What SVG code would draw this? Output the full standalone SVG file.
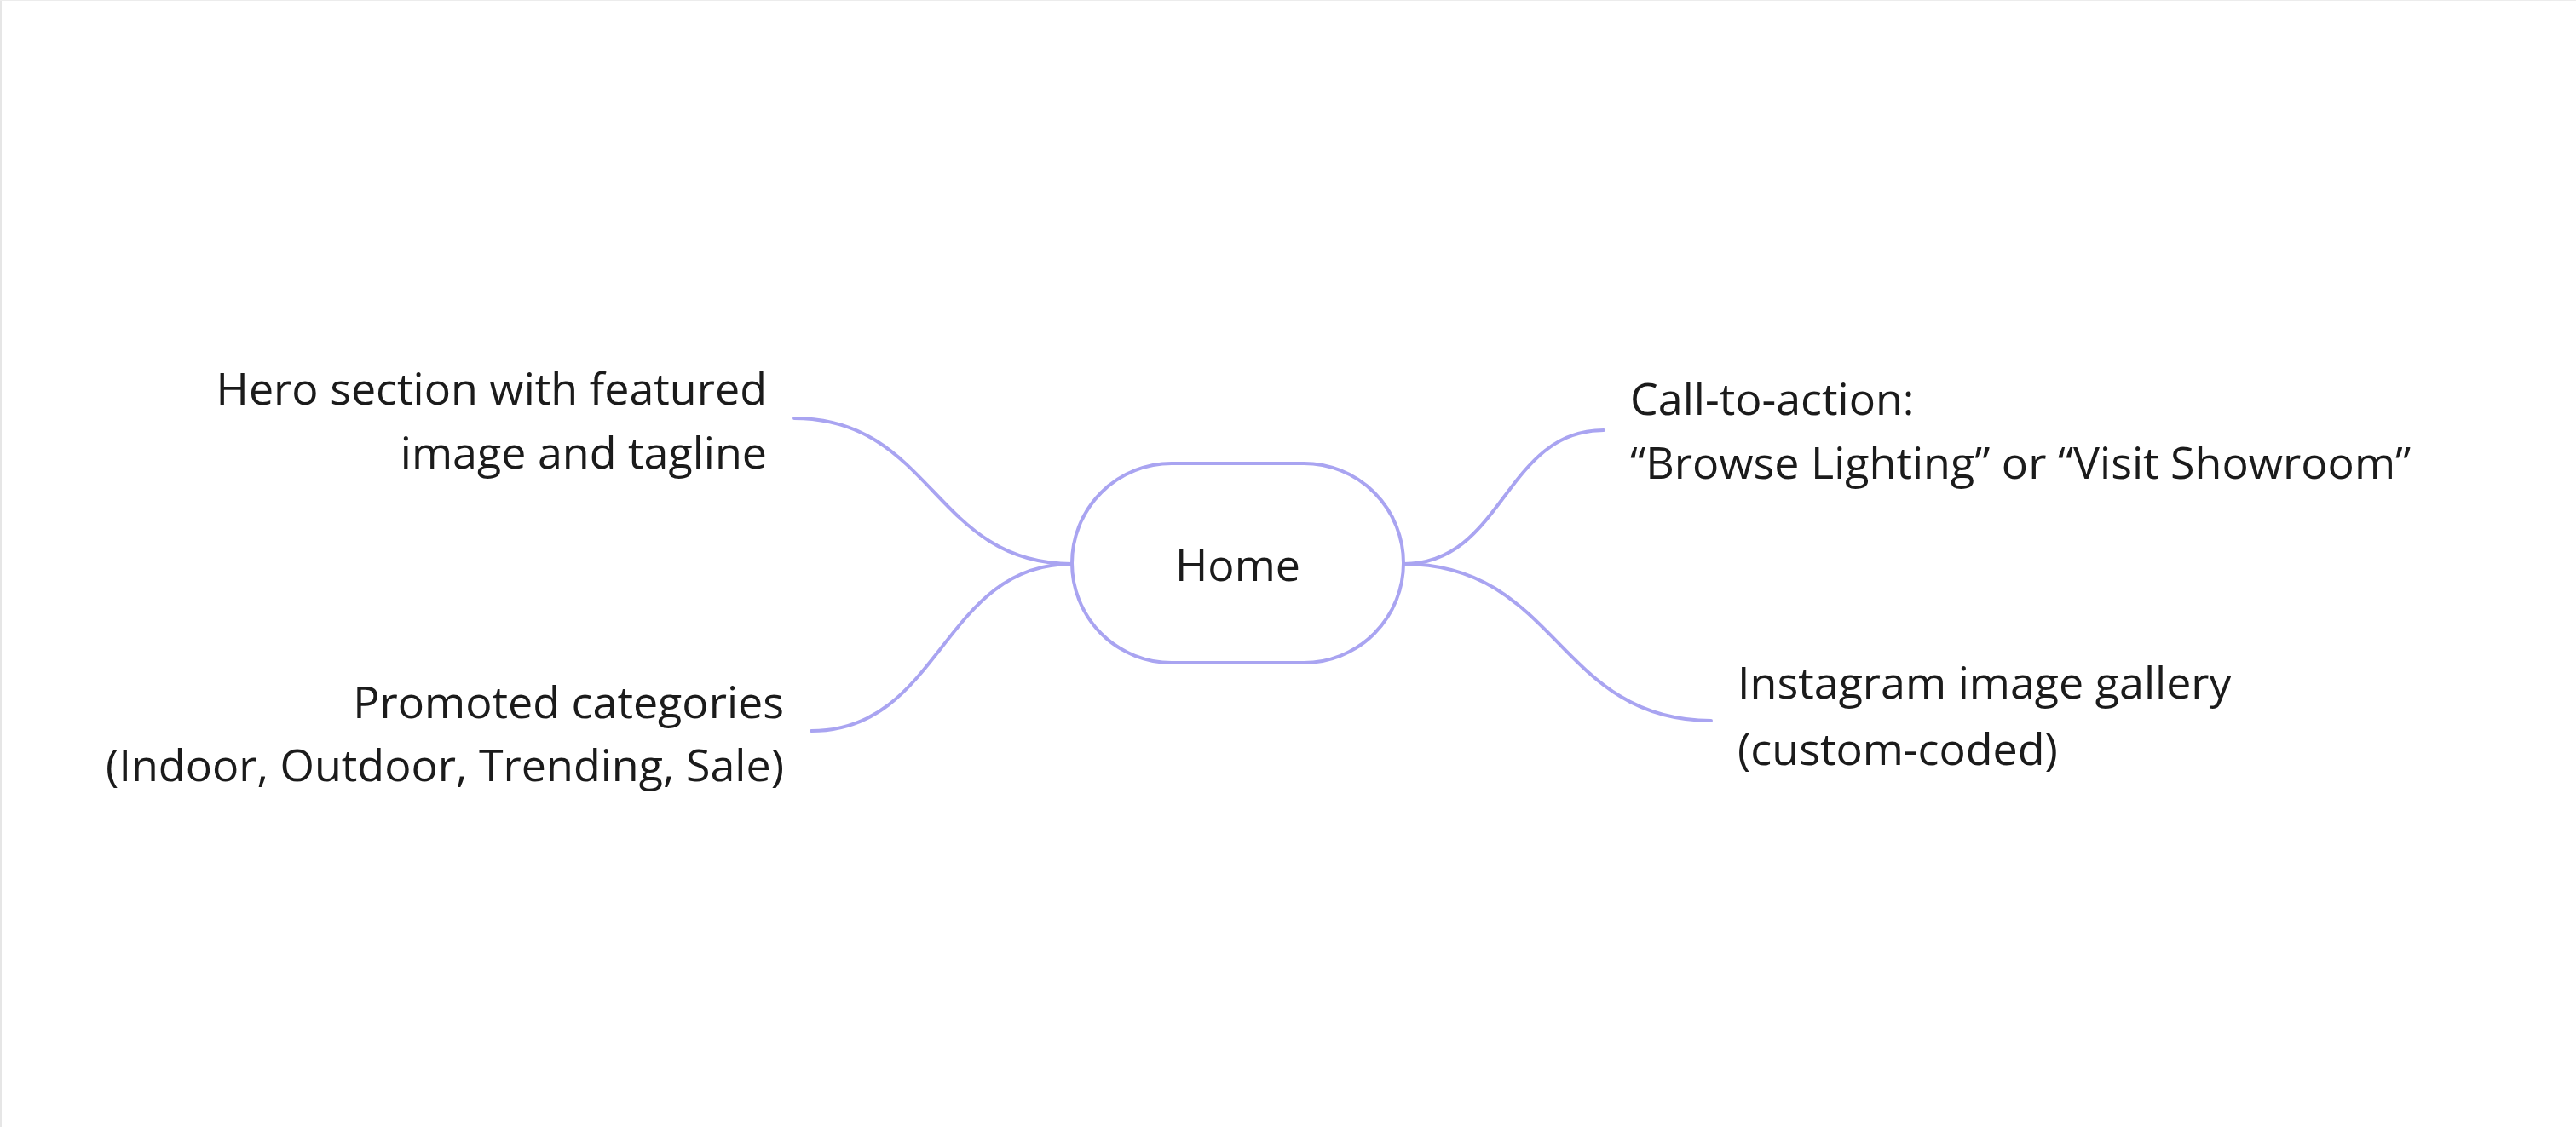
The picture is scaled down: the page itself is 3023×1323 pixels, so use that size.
<svg xmlns="http://www.w3.org/2000/svg" width="3023" height="1323" viewBox="0 0 3023 1323">
<style>
.lbl{font-family:"Open Sans","Noto Sans","Liberation Sans",sans-serif;font-size:52px;fill:#1b1b1b}
.edge{fill:none;stroke:#a9a4f1;stroke-width:4;stroke-linecap:round}
.node{fill:#ffffff;stroke:#a9a4f1;stroke-width:4}
</style>
<rect x="0" y="0" width="3023" height="1323" fill="#ffffff"/>
<line x1="1" y1="0" x2="1" y2="1323" stroke="#e6e6e6" stroke-width="2"/>
<line x1="0" y1="0.5" x2="3023" y2="0.5" stroke="#ececec" stroke-width="1"/>
<g id="connectors">
<path class="edge" d="M932,491 C1095,491 1095,662 1258,662"/>
<path class="edge" d="M952,858 C1105,858 1105,662 1258,662"/>
<path class="edge" d="M1647,662 C1765,662 1765,505 1882,505"/>
<path class="edge" d="M1647,662 C1828,662 1828,846 2008,846"/>
</g>
<g id="home">
<rect class="node" x="1258" y="544" width="389" height="234" rx="117" ry="117"/>
<text class="lbl" x="1452.5" y="682" text-anchor="middle">Home</text>
</g>
<g id="hero">
<text class="lbl" text-anchor="end"><tspan x="900" y="475">Hero section with featured</tspan><tspan x="900" y="550">image and tagline</tspan></text>
</g>
<g id="promoted">
<text class="lbl" text-anchor="end"><tspan x="920" y="843">Promoted categories</tspan><tspan x="920" y="917">(Indoor, Outdoor, Trending, Sale)</tspan></text>
</g>
<g id="cta">
<text class="lbl"><tspan x="1913" y="487">Call-to-action:</tspan><tspan x="1913" y="562">“Browse Lighting” or “Visit Showroom”</tspan></text>
</g>
<g id="instagram">
<text class="lbl"><tspan x="2039" y="820">Instagram image gallery</tspan><tspan x="2039" y="898">(custom-coded)</tspan></text>
</g>
</svg>
